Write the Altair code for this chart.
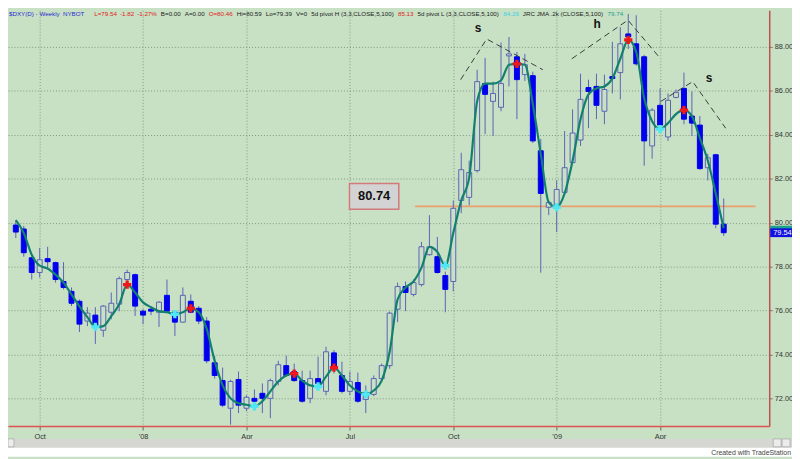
import json
import altair as alt
import pandas as pd

# ---------------- data (weekly bars, $DXY, Sep 2007 - May 2009) ----------------
opens = [79.89, 79.71, 78.40, 77.73, 78.36, 78.18, 77.32, 76.87, 76.42, 75.52,
         75.79, 75.10, 75.92, 76.29, 77.41, 77.63, 75.97, 76.06, 75.92, 76.69,
         75.92, 75.47, 76.42, 76.10, 75.52, 73.62, 72.81, 71.55, 72.86, 71.55,
         72.00, 72.23, 72.00, 72.77, 73.49, 73.22, 72.81, 72.00, 72.90, 72.32,
         74.07, 73.04, 72.32, 72.72, 71.95, 72.18, 72.90, 73.49, 76.06, 77.09,
         76.73, 77.18, 78.54, 78.45, 77.59, 77.32, 81.01, 81.15, 82.37, 86.33,
         85.52, 85.25, 87.59, 87.55, 86.74, 86.69, 83.27, 80.70, 80.65, 81.38,
         82.73, 83.76, 86.15, 86.20, 85.07, 86.65, 86.83, 88.59, 88.14, 87.55,
         83.49, 85.34, 83.90, 85.70, 86.11, 84.85, 84.44, 82.50, 83.09, 79.93]
highs = [80.11, 79.85, 78.45, 78.85, 78.90, 78.22, 78.20, 77.05, 76.50, 76.15,
         76.15, 76.25, 76.82, 77.55, 77.86, 77.68, 76.06, 76.20, 76.42, 77.41,
         75.97, 77.05, 76.73, 76.20, 75.70, 73.94, 73.40, 72.85, 73.22, 72.14,
         72.41, 72.68, 72.90, 73.71, 73.94, 73.58, 73.26, 73.26, 73.90, 74.35,
         74.20, 73.67, 73.22, 73.17, 72.59, 73.04, 73.58, 75.95, 77.27, 77.32,
         77.41, 79.12, 80.34, 79.35, 77.77, 81.01, 83.18, 82.82, 86.96, 87.50,
         86.42, 88.20, 88.45, 87.77, 87.68, 86.87, 83.81, 81.01, 81.92, 84.17,
         85.16, 86.78, 86.51, 86.78, 86.74, 88.23, 88.90, 89.50, 89.44, 87.64,
         85.21, 86.11, 85.88, 86.06, 86.83, 85.97, 84.85, 83.13, 83.13, 81.10]
lows = [79.30, 78.45, 77.41, 77.50, 77.95, 77.27, 76.96, 76.20, 75.02, 75.29,
        74.48, 74.80, 75.60, 75.97, 77.27, 75.75, 75.38, 75.79, 75.25, 75.95,
        74.84, 75.45, 75.88, 75.38, 73.60, 72.90, 71.60, 70.80, 71.33, 71.42,
        71.65, 71.33, 71.10, 72.59, 72.98, 72.75, 71.80, 71.78, 72.45, 72.14,
        73.13, 72.23, 72.14, 71.80, 71.33, 72.10, 72.80, 73.35, 75.47, 75.97,
        76.64, 77.09, 78.50, 77.68, 75.92, 76.87, 80.43, 80.79, 82.28, 84.03,
        83.94, 85.07, 86.20, 84.71, 86.45, 83.63, 77.72, 80.34, 79.57, 81.33,
        82.68, 83.49, 84.30, 84.71, 84.48, 85.88, 85.61, 87.90, 87.15, 82.59,
        82.91, 84.08, 83.72, 85.66, 84.48, 83.94, 82.40, 81.92, 79.75, 79.39]
closes = [79.57, 78.63, 77.73, 78.31, 78.22, 77.41, 77.05, 76.33, 75.38, 75.88,
          75.29, 76.20, 76.33, 77.45, 77.73, 76.20, 75.79, 75.97, 76.38, 75.97,
          75.47, 76.69, 75.92, 75.52, 73.71, 73.04, 71.69, 72.77, 71.69, 72.05,
          71.87, 72.00, 72.81, 73.53, 73.04, 72.81, 71.87, 72.90, 72.68, 74.12,
          73.35, 72.32, 72.77, 71.87, 72.27, 72.90, 73.49, 75.88, 77.09, 76.82,
          77.27, 78.90, 78.90, 77.73, 76.96, 80.65, 82.41, 82.28, 86.42, 85.84,
          85.88, 86.33, 87.68, 86.51, 87.19, 83.72, 81.33, 80.92, 81.51, 82.50,
          84.08, 85.61, 85.97, 85.34, 86.06, 86.56, 88.14, 88.45, 87.23, 83.72,
          85.12, 84.44, 85.57, 85.93, 84.71, 84.53, 82.46, 82.95, 79.93, 79.54]
jma = [80.11, 79.53, 78.54, 78.04, 77.91, 77.63, 77.27, 76.73, 76.19, 75.70,
       75.25, 75.29, 75.74, 76.28, 77.18, 76.82, 76.37, 76.15, 75.97, 75.92,
       75.83, 75.92, 76.10, 75.92, 75.16, 73.71, 72.59, 72.00, 71.78, 71.71,
       71.64, 71.87, 72.32, 72.77, 73.04, 73.13, 72.81, 72.59, 72.54, 72.99,
       73.40, 73.04, 72.59, 72.32, 72.18, 72.36, 72.81, 74.12, 76.51, 77.05,
       77.32, 77.95, 78.90, 78.67, 78.04, 79.53, 81.01, 82.05, 85.52, 86.33,
       86.33, 86.47, 87.19, 87.23, 87.19, 85.39, 83.13, 80.92, 80.70, 81.33,
       82.82, 84.71, 85.84, 86.11, 86.20, 86.56, 87.46, 88.32, 87.77, 85.66,
       84.62, 84.26, 84.53, 84.94, 85.12, 84.85, 83.85, 82.82, 81.33, 79.74]

pivot_high_bars = [14, 22, 35, 40, 63, 77, 84]
pivot_low_bars = [10, 20, 30, 38, 44, 54, 68, 81]

tick_bars = [3, 16, 29, 42, 55, 68, 81]
tick_labels = ["Oct", "'08", "Apr", "Jul", "Oct", "'09", "Apr"]
price_ticks = [72, 74, 76, 78, 80, 82, 84, 86, 88]

neckline_price = 80.74
neckline_from_bar = 50.2
neckline_to_bar = 93.0

# head & shoulders dashed outlines (bar index, price)
hs_seg = ["ls", "ls", "ls", "hd", "hd", "hd", "rs", "rs", "rs"]
hs_bar = [55.93, 59.2, 66.26, 69.9, 76.96, 80.85, 81.1, 85.1, 89.24]
hs_price = [86.51, 88.36, 86.96, 87.46, 89.22, 87.55, 85.52, 86.42, 84.3]
hs_lbl_text = ["s", "h", "s"]
hs_lbl_bar = [58.1, 73.07, 87.17]
hs_lbl_price = [88.86, 89.02, 86.6]

header_text = ["$DXY(D) - Weekly", "NYBOT", "L=79.54", "-1.82", "-1.27%", "B=0.00", "A=0.00",
               "O=80.46", "Hi=80.59", "Lo=79.39", "V=0", "5d pivot H (3,3,CLOSE,5,100)", "85.13",
               "5d pivot L (3,3,CLOSE,5,100)", "84.26", "JRC JMA .2k (CLOSE,5,100)", "79.74"]
header_color = ["#2b2bd0", "#2b2bd0", "#e02020", "#e02020", "#e02020", "#222222", "#222222",
                "#e02020", "#222222", "#222222", "#222222", "#222222", "#e02020",
                "#222222", "#3ccfe0", "#222222", "#1fa08c"]
header_gap_after = [3, 10, 3, 3, 4, 4, 4, 4, 4, 4, 4, 4, 4, 4, 4, 4, 0]

last_close = 79.54
last_jma = 79.74

# ---------------- styling ----------------
BG = "#c8e1c5"
GRID = "#7f9c7f"
WICK = "#5b63b5"
DOWN = "#0000ee"
JMA_COL = "#13806e"
W, H = 769, 420
FONT = "Liberation Sans"
HDR_SIZE = 6.3

# approximate Arial/Liberation Sans advance widths (em) for header layout
_w = {c: 0.556 for c in "0123456789$"}
_w.update({" ": 0.278, ".": 0.278, ",": 0.278, "-": 0.333, "(": 0.333, ")": 0.333,
           "%": 0.889, "=": 0.584, "A": 0.667, "B": 0.667, "C": 0.722, "D": 0.722,
           "E": 0.667, "H": 0.722, "J": 0.5, "K": 0.667, "L": 0.556, "M": 0.833,
           "N": 0.722, "O": 0.778, "R": 0.722, "S": 0.667, "T": 0.611, "V": 0.667,
           "W": 0.944, "X": 0.667, "Y": 0.667, "d": 0.556, "e": 0.556, "i": 0.222,
           "k": 0.5, "l": 0.222, "o": 0.556, "p": 0.556, "t": 0.278, "v": 0.5, "y": 0.5})


def text_width(s, size):
    return sum(_w.get(ch, 0.556) for ch in s) * size


header_x = []
cur = 1.0
for t, g in zip(header_text, header_gap_after):
    header_x.append(cur)
    cur += text_width(t, HDR_SIZE) + g

df = pd.DataFrame({"i": list(range(len(opens))), "open": opens, "high": highs,
                   "low": lows, "close": closes, "jma": jma})

xscale = alt.Scale(domain=[-0.36, 94.1], nice=False, zero=False)
yscale = alt.Scale(domain=[70.74, 89.667], nice=False, zero=False)

label_expr = ""
for b, t in zip(tick_bars, tick_labels):
    label_expr += f"datum.value == {b} ? {json.dumps(t)} : "
label_expr += "''"

xaxis = alt.Axis(values=tick_bars, labelExpr=label_expr, title=None, grid=True,
                 gridDash=[1, 2], gridColor=GRID, gridOpacity=1, labelFontSize=7.5,
                 labelFont=FONT, labelColor="#333333", domainColor="#e05252",
                 domainWidth=1.5, tickColor="#666666", tickSize=4, labelPadding=3,
                 labelFlush=False, labelOverlap=False)
yaxis = alt.Axis(orient="right", values=price_ticks, format=".2f", title=None, grid=True,
                 gridDash=[1, 2], gridColor=GRID, gridOpacity=1, labelFontSize=7.5,
                 labelFont=FONT, labelColor="#333333", domainColor="#c0504d",
                 domainWidth=1.5, tickColor="#777777", tickSize=3, labelPadding=2,
                 labelFlush=False, labelOverlap=False)


def X(field="i"):
    return alt.X(f"{field}:Q", scale=xscale, axis=xaxis)


def Y(field):
    return alt.Y(f"{field}:Q", scale=yscale, axis=yaxis)


base = alt.Chart(df)

wicks = base.mark_rule(color=WICK, strokeWidth=1).encode(
    x=X(), y=Y("low"), y2="high:Q")

bodies = base.mark_bar(size=5, strokeWidth=1).encode(
    x=X(), y=Y("open"), y2="close:Q",
    fill=alt.condition("datum.close < datum.open", alt.value(DOWN), alt.value(BG)),
    stroke=alt.condition("datum.close < datum.open", alt.value(DOWN), alt.value(WICK)))

jma_line = base.mark_line(color=JMA_COL, strokeWidth=2.2, interpolate="monotone").encode(
    x=X(), y=Y("jma"))

piv_hi = pd.DataFrame({"i": pivot_high_bars, "p": [jma[b] for b in pivot_high_bars]})
piv_lo = pd.DataFrame({"i": pivot_low_bars, "p": [jma[b] for b in pivot_low_bars]})
hi_pts = alt.Chart(piv_hi).mark_point(shape="cross", filled=True, size=70, color="#f01818",
                                      opacity=1).encode(x=X(), y=Y("p"))
lo_pts = alt.Chart(piv_lo).mark_point(shape="cross", filled=True, size=70, color="#4fe8f2",
                                      opacity=1).encode(x=X(), y=Y("p"))

neck_df = pd.DataFrame({"i": [neckline_from_bar], "i2": [neckline_to_bar], "p": [neckline_price]})
neck = alt.Chart(neck_df).mark_rule(color="#eb9f6c", strokeWidth=2).encode(
    x=X(), x2="i2:Q", y=Y("p"))

box_df = pd.DataFrame({"i": [41.95], "i2": [48.15], "p": [81.78], "p2": [80.61],
                       "ic": [45.05], "pc": [81.2], "t": [f"{neckline_price:.2f}"]})
box = alt.Chart(box_df).mark_rect(fill="#d3d3d3", stroke="#d27a7a", strokeWidth=1.5).encode(
    x=X(), x2="i2:Q", y=Y("p"), y2="p2:Q")
box_txt = alt.Chart(box_df).mark_text(fontSize=13, fontWeight="bold", font=FONT,
                                      color="#111111").encode(
    x=X("ic"), y=Y("pc"), text="t:N")

hs_df = pd.DataFrame({"seg": hs_seg, "i": hs_bar, "p": hs_price, "k": list(range(len(hs_bar)))})
hs_lines = alt.Chart(hs_df).mark_line(color="#3a3a3a", strokeWidth=1, strokeDash=[6, 4]).encode(
    x=X(), y=Y("p"), detail="seg:N", order="k:Q")
hs_lbl_df = pd.DataFrame({"i": hs_lbl_bar, "p": hs_lbl_price, "t": hs_lbl_text})
hs_lbls = alt.Chart(hs_lbl_df).mark_text(fontSize=12, fontWeight="bold", font=FONT,
                                         color="#111111").encode(
    x=X(), y=Y("p"), text="t:N")

# last-price boxes on the right axis
px_df = pd.DataFrame({"p": [last_jma + 0.12, last_close + 0.2],
                      "p2": [last_jma - 0.12, last_close - 0.2],
                      "c": ["#1fa08c", "#1010e0"]})
px_boxes = alt.Chart(px_df).mark_rect().encode(
    x=alt.value(W + 1), x2=alt.value(W + 23), y=Y("p"), y2="p2:Q",
    fill=alt.Color("c:N", scale=None))
px_txt = alt.Chart(pd.DataFrame({"p": [last_close], "t": [f"{last_close:.2f}"]})).mark_text(
    fontSize=7.5, font=FONT, color="white", align="left").encode(
    x=alt.value(W + 4), y=Y("p"), text="t:N")

hdr_df = pd.DataFrame({"x": header_x, "t": header_text, "c": header_color})
header = alt.Chart(hdr_df).mark_text(fontSize=HDR_SIZE, font=FONT, align="left",
                                     baseline="middle").encode(
    x=alt.X("x:Q", scale=None), y=alt.value(3.5), text="t:N",
    color=alt.Color("c:N", scale=None))

# bottom scroll bar and footer
one = pd.DataFrame({"a": [0]})
scroll = alt.Chart(one).mark_rect(fill="#d6d6d2").encode(
    x=alt.value(-8), x2=alt.value(W + 23), y=alt.value(H + 13), y2=alt.value(H + 22))
footer_bg = alt.Chart(one).mark_rect(fill="#ffffff").encode(
    x=alt.value(-8), x2=alt.value(W + 23), y=alt.value(H + 22), y2=alt.value(H + 31))
btn_l = alt.Chart(one).mark_rect(fill="#ececec", stroke="#999999", strokeWidth=0.6).encode(
    x=alt.value(0), x2=alt.value(6), y=alt.value(H + 13), y2=alt.value(H + 21))
btn_r1 = alt.Chart(one).mark_rect(fill="#ececec", stroke="#999999", strokeWidth=0.6).encode(
    x=alt.value(W + 4), x2=alt.value(W + 12), y=alt.value(H + 13), y2=alt.value(H + 21))
btn_r2 = alt.Chart(one).mark_rect(fill="#ececec", stroke="#999999", strokeWidth=0.6).encode(
    x=alt.value(W + 13), x2=alt.value(W + 21), y=alt.value(H + 13), y2=alt.value(H + 21))
footer = alt.Chart(pd.DataFrame({"t": ["Created with TradeStation"]})).mark_text(
    fontSize=7, font=FONT, color="#444444", align="right", baseline="middle").encode(
    x=alt.value(W + 22), y=alt.value(H + 27), text="t:N")

chart = alt.layer(
    neck, box, box_txt, wicks, bodies, jma_line, hi_pts, lo_pts, hs_lines, hs_lbls,
    px_boxes, px_txt, header, scroll, footer_bg, btn_l, btn_r1, btn_r2, footer
).properties(
    width=W, height=H,
    autosize=alt.AutoSizeParams(type="none"),
    padding={"left": 0, "top": 0, "right": 23, "bottom": 31},
).configure(background=BG).configure_view(stroke=None, fill=BG)

chart.save("out.html", embed_options={"renderer": "svg", "actions": False})
